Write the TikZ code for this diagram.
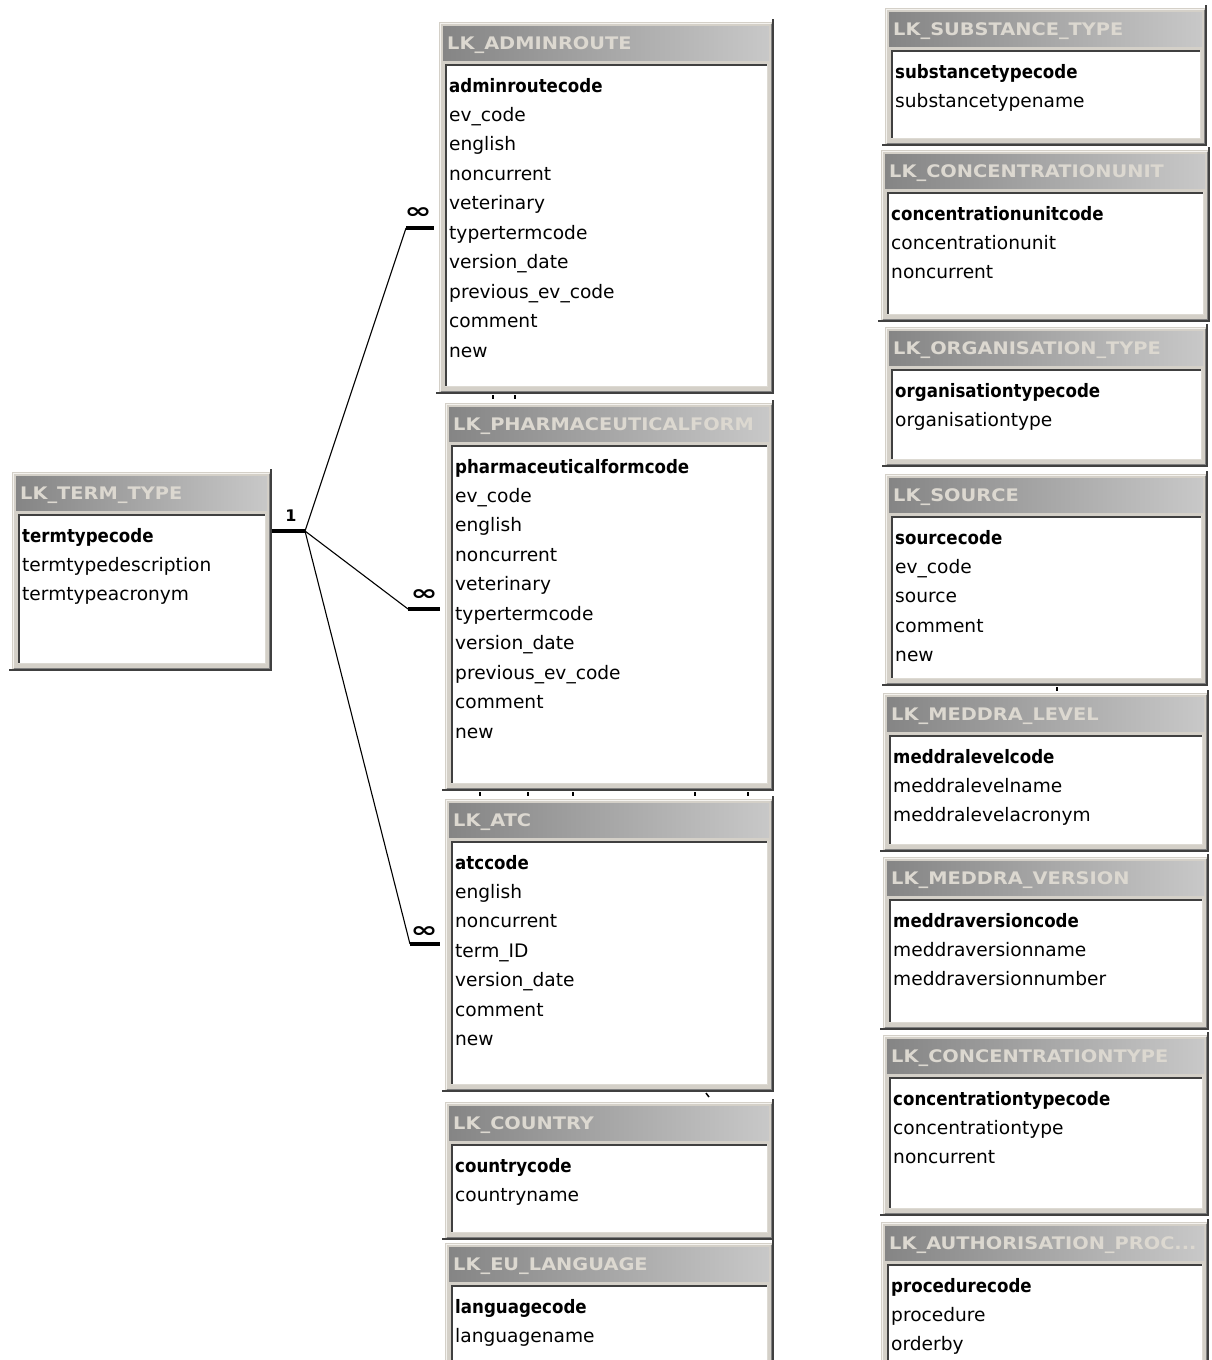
\documentclass[tikz,border=0pt]{standalone}
\usepackage{graphicx}
\usepackage{fontspec}
\setmainfont{DejaVu Sans}

\definecolor{winface}{HTML}{D4D0C8}
\definecolor{winlight}{HTML}{F4F2EE}
\definecolor{winshadow}{HTML}{404040}
\definecolor{wingray}{HTML}{808080}
\definecolor{titleL}{HTML}{858585}
\definecolor{titleR}{HTML}{C8C8C8}
\definecolor{titletext}{HTML}{DCD8D0}

\tikzset{
  x=1pt, y=-1pt,
  tablebox/.style={anchor=north west, inner sep=0pt, outer sep=0pt},
  fieldtext/.style={anchor=base west, inner sep=0pt, text=black,
    font=\fontsize{18.6}{21}\selectfont},
  keytext/.style={anchor=base west, inner sep=0pt, text=black,
    font=\fontsize{18.5}{21}\selectfont\bfseries},
  titlestyle/.style={anchor=base west, inner sep=0pt, text=titletext,
    font=\fontsize{17.3}{20}\selectfont\bfseries},
  relline/.style={draw=black, line width=1.1pt},
  cardbar/.style={draw=black, line width=4pt},
  onelabel/.style={inner sep=0pt, font=\fontsize{16}{16}\selectfont\bfseries},
  manylabel/.style={inner sep=0pt, font=\fontsize{24}{24}\selectfont\bfseries},
  stub/.style={draw=black, line width=1.5pt},
}

% \erdtable{name}{x1}{y1}{x2}{y2}{title}{key field}{other fields}
\newcommand{\erdtable}[8]{%
  \node[tablebox, minimum width={#4-#2}, minimum height={#5-#3}] (#1) at (#2,#3) {};
  % window face and 3D edges
  \fill[winface] (#2,#3) rectangle (#4,#5);
  \draw[winlight, line width=1pt] (#2+1.5,#5-3) -- (#2+1.5,#3+1.5) -- (#4-3,#3+1.5);
  \draw[wingray, line width=1pt] (#4-3,#3+1.5) -- (#4-3,#5-3) -- (#2+1.5,#5-3);
  \draw[winshadow, line width=2pt] (#4-1,#3-3) -- (#4-1,#5-1) -- (#2-3,#5-1);
  % caption bar
  \shade[left color=titleL, right color=titleR] (#2+4,#3+4) rectangle (#4-5,#3+38);
  \node[titlestyle] (#1-title) at (#2+8,#3+27.5) {\scalebox{1.12}[1]{#6}};
  % field list panel
  \fill[white] (#2+6,#3+42) rectangle (#4-6,#5-7);
  \draw[winshadow, line width=1.5pt] (#2+6.75,#5-7) -- (#2+6.75,#3+42.75) -- (#4-6,#3+42.75);
  \draw[winface!80!white, line width=1.5pt] (#2+6,#5-7.75) -- (#4-6.75,#5-7.75) -- (#4-6.75,#3+42);
  \node[keytext] (#1-f0) at (#2+10,#3+70) {\scalebox{0.9}[1]{#7}};
  \foreach \f [count=\i] in {#8} {%
    \node[fieldtext] (#1-f\i) at (#2+10,{#3+70+29.45*\i}) {\f};
  }%
}

\begin{document}
\begin{tikzpicture}
\useasboundingbox (0,0) rectangle (1211,1360);
\fill[white] (0,0) rectangle (1211,1360);
\begin{scope}
\clip (0,0) rectangle (1211,1360);

% ---- left: term type ----
\erdtable{termtype}{12}{472}{272}{671}{LK\_TERM\_TYPE}{termtypecode}
  {termtypedescription,termtypeacronym}

% ---- middle column ----
\erdtable{adminroute}{439}{22}{774}{394}{LK\_ADMINROUTE}{adminroutecode}
  {ev\_code,english,noncurrent,veterinary,typertermcode,version\_date,previous\_ev\_code,comment,new}
\erdtable{pharmform}{445}{403}{774}{791}{LK\_PHARMACEUTICALFORM}{pharmaceuticalformcode}
  {ev\_code,english,noncurrent,veterinary,typertermcode,version\_date,previous\_ev\_code,comment,new}
\erdtable{atc}{445}{799}{774}{1092}{LK\_ATC}{atccode}
  {english,noncurrent,term\_ID,version\_date,comment,new}
\erdtable{country}{445}{1102}{774}{1240}{LK\_COUNTRY}{countrycode}
  {countryname}
\erdtable{eulanguage}{445}{1243}{774}{1390}{LK\_EU\_LANGUAGE}{languagecode}
  {languagename}

% ---- right column ----
\erdtable{substtype}{885}{8}{1207}{146}{LK\_SUBSTANCE\_TYPE}{substancetypecode}
  {substancetypename}
\erdtable{concunit}{881}{150}{1210}{322}{LK\_CONCENTRATIONUNIT}{concentrationunitcode}
  {concentrationunit,noncurrent}
\erdtable{orgtype}{885}{327}{1208}{467}{LK\_ORGANISATION\_TYPE}{organisationtypecode}
  {organisationtype}
\erdtable{source}{885}{474}{1208}{686}{LK\_SOURCE}{sourcecode}
  {ev\_code,source,comment,new}
\erdtable{meddralevel}{883}{693}{1209}{852}{LK\_MEDDRA\_LEVEL}{meddralevelcode}
  {meddralevelname,meddralevelacronym}
\erdtable{meddraversion}{883}{857}{1209}{1030}{LK\_MEDDRA\_VERSION}{meddraversioncode}
  {meddraversionname,meddraversionnumber}
\erdtable{conctype}{883}{1035}{1209}{1216}{LK\_CONCENTRATIONTYPE}{concentrationtypecode}
  {concentrationtype,noncurrent}
\erdtable{authproc}{881}{1222}{1209}{1390}{LK\_AUTHORISATION\_PROC...}{procedurecode}
  {procedure,orderby}

% ---- one-to-many relationships from LK_TERM_TYPE ----
\coordinate (hub) at (305,531);
\draw[cardbar] (termtype.east |- hub) -- (hub);
\node[onelabel] (one) at (291,516) {1};

\coordinate (endadmin) at (406,228);
\coordinate (endpharm) at (408,609);
\coordinate (endatc) at (410,944);

\draw[relline] (hub) -- (endadmin);
\draw[relline] (hub) -- (endpharm);
\draw[relline] (hub) -- (endatc);

\draw[cardbar] (endadmin) -- ([xshift=-5pt]adminroute.west |- endadmin);
\draw[cardbar] (endpharm) -- ([xshift=-5pt]pharmform.west |- endpharm);
\draw[cardbar] (endatc) -- ([xshift=-5pt]atc.west |- endatc);

\node[manylabel] (manyadmin) at (418,213) {\scalebox{1.35}[0.9]{∞}};
\node[manylabel] (manypharm) at (424,595) {\scalebox{1.35}[0.9]{∞}};
\node[manylabel] (manyatc) at (424,932) {\scalebox{1.35}[0.9]{∞}};

% ---- stubs of hidden relationship lines between tables ----
\foreach \sx in {493,515} \draw[stub] (\sx,395) -- (\sx,399);
\foreach \sx in {480,528,573,695,748} \draw[stub] (\sx,792) -- (\sx,796);
\draw[stub] (706,1093) -- (709,1097);
\draw[stub] (1057,687) -- (1057,691);
\end{scope}
\end{tikzpicture}
\end{document}
